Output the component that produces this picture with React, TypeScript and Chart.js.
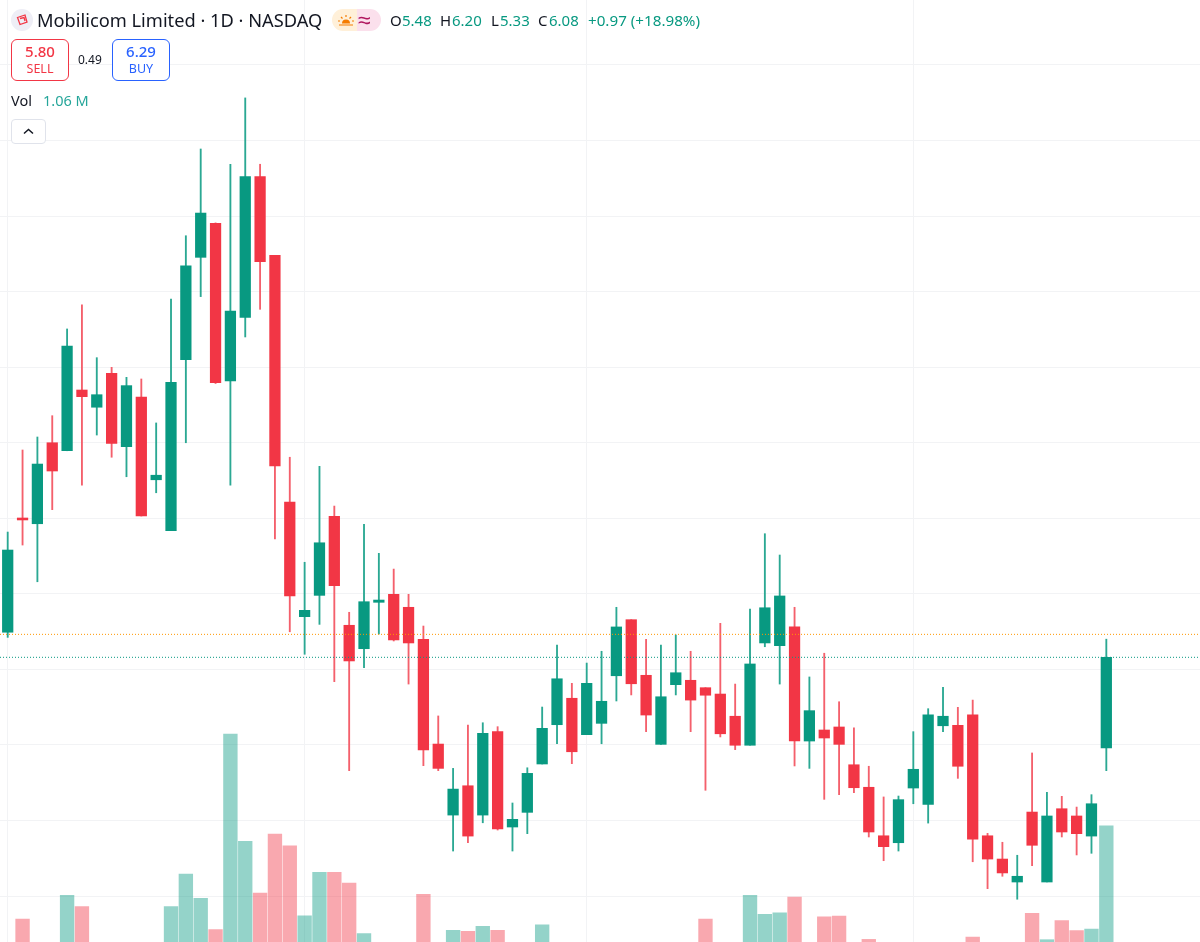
import React, { useEffect, useRef } from "react";
import { Chart, registerables } from "chart.js";

Chart.register(...registerables);

const UP = "#089981";
const DOWN = "#F23645";
const UP_WICK = "#2ba893";
const DOWN_WICK = "#f4606c";
const UP_VOL = "rgba(8,153,129,0.43)";
const DOWN_VOL = "rgba(242,54,69,0.43)";
const FONT = '"Noto Sans", sans-serif';

// daily OHLC, oldest first
const opens = [
    6.246, 7.002, 6.964, 7.5, 7.447, 7.849, 7.735, 7.96, 7.474, 7.803,
    7.255, 6.918, 8.05, 8.727, 8.952, 7.909, 8.33, 9.261, 8.741, 7.108,
    6.349, 6.49, 7.013, 6.292, 6.137, 6.444, 6.497, 6.411, 6.199, 5.506,
    5.036, 5.23, 5.036, 5.588, 4.957, 5.054, 5.374, 5.634, 5.809, 5.568,
    5.643, 5.958, 6.329, 5.961, 5.504, 5.899, 5.928, 5.879, 5.837, 5.69,
    5.498, 6.175, 6.157, 6.281, 5.526, 5.599, 5.619, 5.369, 5.22, 4.899,
    4.853, 5.215, 5.107, 5.627, 5.63, 5.7, 4.899, 4.745, 4.593, 5.056,
    4.593, 5.078, 5.03, 4.897, 5.48,
];
const highs = [
    6.909, 7.452, 7.538, 7.679, 8.253, 8.412, 8.063, 7.999, 7.933, 7.922,
    7.631, 8.451, 8.87, 9.444, 8.955, 9.343, 9.782, 9.343, 8.741, 7.404,
    6.709, 7.344, 7.081, 6.378, 6.96, 6.768, 6.664, 6.497, 6.287, 5.692,
    5.345, 5.632, 5.647, 5.621, 5.116, 5.349, 5.751, 6.161, 5.908, 6.042,
    6.12, 6.411, 6.329, 6.199, 6.161, 6.228, 6.12, 5.879, 6.305, 5.903,
    6.4, 6.898, 6.757, 6.411, 5.95, 6.107, 5.786, 5.614, 5.359, 5.156,
    5.162, 5.588, 5.74, 5.882, 5.749, 5.797, 4.915, 4.856, 4.77, 5.447,
    5.187, 5.16, 5.089, 5.171, 6.2,
];
const lows = [
    6.212, 6.823, 6.58, 7.057, 7.447, 7.22, 7.551, 7.404, 7.275, 7.015,
    7.169, 6.918, 7.5, 8.467, 7.892, 7.22, 8.2, 8.383, 6.863, 6.249,
    6.1, 6.298, 5.919, 5.33, 6.011, 6.234, 6.188, 5.903, 5.363, 5.33,
    4.798, 4.853, 4.985, 4.937, 4.798, 4.913, 5.374, 5.508, 5.376, 5.568,
    5.508, 5.791, 5.831, 5.588, 5.504, 5.831, 5.588, 5.2, 5.553, 5.469,
    5.498, 6.15, 5.903, 5.361, 5.345, 5.14, 5.171, 5.184, 4.891, 4.734,
    4.798, 5.111, 4.983, 5.588, 5.279, 4.727, 4.549, 4.631, 4.479, 4.701,
    4.593, 4.891, 4.772, 4.783, 5.33,
];
const closes = [
    6.79, 6.989, 7.359, 7.313, 8.14, 7.805, 7.818, 7.496, 7.878, 7.015,
    7.285, 7.9, 8.67, 9.02, 7.897, 8.372, 9.261, 8.698, 7.346, 6.486,
    6.391, 6.838, 6.554, 6.056, 6.448, 6.459, 6.195, 6.175, 5.467, 5.345,
    5.208, 4.897, 5.577, 4.944, 5.008, 5.312, 5.61, 5.938, 5.455, 5.908,
    5.789, 6.281, 5.905, 5.698, 5.819, 5.978, 5.797, 5.829, 5.574, 5.498,
    6.036, 6.408, 6.486, 5.526, 5.727, 5.546, 5.504, 5.217, 4.924, 4.827,
    5.138, 5.339, 5.7, 5.69, 5.359, 4.876, 4.745, 4.653, 4.631, 4.836,
    5.03, 4.924, 4.913, 5.111, 6.08,
];
// millions of shares; null where the bar sits below the cropped bottom edge
const volumes = [
    null, 0.493, null, null, 0.637, 0.568, null, null, null, null,
    null, 0.568, 0.767, 0.619, 0.428, 1.62, 0.966, 0.651, 1.011, 0.938,
    0.513, 0.777, 0.777, 0.712, 0.404, null, null, null, 0.643, null,
    0.424, 0.418, 0.449, 0.424, null, null, 0.457, null, null, null,
    null, null, null, null, null, null, null, 0.493, null, null,
    0.637, 0.522, 0.531, 0.627, null, 0.507, 0.511, null, 0.369, null,
    null, null, null, null, null, 0.383, null, null, null, 0.528,
    0.367, 0.483, 0.422, 0.432, 1.06,
];
const dateBreaks = [0, 20, 39, 61];
const askLine = 6.232;
const lastLine = 6.08;

const candles = opens.map((_, i) => i);
const isUp = (i: number) => closes[i] >= opens[i];

const X_MIN = -0.519;
const X_MAX = 80.31;

function Label(props: { x: number; y: number; size?: number; color?: string; weight?: number; children: React.ReactNode }) {
    return (
        <span
            style={{
                position: "absolute",
                left: props.x,
                top: props.y,
                fontSize: props.size ?? 15,
                color: props.color ?? "#131722",
                fontWeight: props.weight ?? 400,
                lineHeight: "20px",
                whiteSpace: "nowrap",
            }}
        >
            {props.children}
        </span>
    );
}

function PriceBox(props: { x: number; color: string; price: string; side: string }) {
    return (
        <div
            style={{
                position: "absolute",
                left: props.x,
                top: 39,
                width: 56,
                height: 40,
                border: `1px solid ${props.color}`,
                borderRadius: 6,
                color: props.color,
                textAlign: "center",
                background: "#fff",
            }}
        >
            <div style={{ fontSize: 15, fontWeight: 500, lineHeight: "17px", marginTop: 3 }}>{props.price}</div>
            <div style={{ fontSize: 12.5, lineHeight: "17px" }}>{props.side}</div>
        </div>
    );
}

export default function App() {
    const canvasRef = useRef<HTMLCanvasElement | null>(null);

    useEffect(() => {
        if (!canvasRef.current) return;

        const chart = new Chart(canvasRef.current, {
            type: "bar",
            data: {
                datasets: [
                    {
                        type: "line",
                        data: [
                            { x: X_MIN, y: askLine },
                            { x: X_MAX, y: askLine },
                        ],
                        borderColor: "#FF9800",
                        borderWidth: 1,
                        borderDash: [1, 2],
                        pointRadius: 0,
                        order: 0,
                    },
                    {
                        type: "line",
                        data: [
                            { x: X_MIN, y: lastLine },
                            { x: X_MAX, y: lastLine },
                        ],
                        borderColor: UP,
                        borderWidth: 1,
                        borderDash: [1, 2],
                        pointRadius: 0,
                        order: 0,
                    },
                    {
                        data: candles.map((i) => ({ x: i, y: [opens[i], closes[i]] })),
                        backgroundColor: candles.map((i) => (isUp(i) ? UP : DOWN)),
                        barThickness: 10.6,
                        grouped: false,
                        order: 1,
                    },
                    {
                        data: candles.map((i) => ({ x: i, y: [lows[i], highs[i]] })),
                        backgroundColor: candles.map((i) => (isUp(i) ? UP_WICK : DOWN_WICK)),
                        barThickness: 1.2,
                        grouped: false,
                        order: 2,
                    },
                    {
                        data: candles.map((i) => ({ x: i, y: volumes[i] })),
                        backgroundColor: candles.map((i) => (isUp(i) ? UP_VOL : DOWN_VOL)),
                        barThickness: 13.7,
                        grouped: false,
                        yAxisID: "v",
                        order: 3,
                    },
                ],
            } as any,
            options: {
                animation: false,
                responsive: false,
                devicePixelRatio: 1,
                layout: { padding: 0 },
                plugins: {
                    legend: { display: false },
                    tooltip: { enabled: false },
                },
                scales: {
                    x: {
                        type: "linear",
                        min: X_MIN,
                        max: X_MAX,
                        offset: false,
                        border: { display: false },
                        grid: { color: "#f2f3f5", drawTicks: false, offset: false },
                        ticks: { display: false },
                        afterBuildTicks: (scale) => {
                            scale.ticks = dateBreaks.map((value) => ({ value }));
                        },
                    },
                    y: {
                        min: 4.196,
                        max: 10.43,
                        border: { display: false },
                        grid: { color: "#f2f3f5", drawTicks: false },
                        ticks: { display: false, stepSize: 0.5, includeBounds: false },
                    },
                    v: {
                        display: false,
                        min: 0.353,
                        max: 6.09,
                    },
                },
            },
        });

        return () => {
            chart.destroy();
        };
    }, []);

    return (
        <div
            style={{
                position: "fixed",
                left: 0,
                top: 0,
                width: 1200,
                height: 942,
                background: "#fff",
                overflow: "hidden",
                fontFamily: FONT,
            }}
        >
            <canvas ref={canvasRef} width={1200} height={942} style={{ display: "block" }} />

            {/* symbol logo */}
            <svg width={22} height={22} style={{ position: "absolute", left: 11, top: 9 }}>
                <circle cx={11} cy={11} r={11} fill="#eeeef6" />
                <path d="M6.5 8.5 L14 6 L16 13 L9 15.5 Z M9 9.5 L13 8.5 L14 12" fill="none" stroke={DOWN} strokeWidth={1.3} />
            </svg>
            <Label x={37} y={10} size={18.25}>Mobilicom Limited · 1D · NASDAQ</Label>

            {/* market status pill */}
            <svg width={49} height={22} style={{ position: "absolute", left: 332, top: 9 }}>
                <path d="M11 0 H25 V22 H11 A11 11 0 0 1 11 0 Z" fill="#fff0d9" />
                <path d="M25 0 H38 A11 11 0 0 1 38 22 H25 Z" fill="#fbe0ec" />
                <path d="M10 14.5 A4 4 0 0 1 18 14.5 Z" fill="#f57c00" />
                <path d="M6 12 H8 M20 12 H22 M14 6 V8 M9 8 L10.5 9.5 M19 8 L17.5 9.5 M7 16 H21" stroke="#f57c00" strokeWidth={1.2} />
            </svg>
            <Label x={358} y={9} size={23} color="#b0175f">≈</Label>

            <Label x={390} y={10}>O</Label>
            <Label x={402} y={10} color={UP}>5.48</Label>
            <Label x={440} y={10}>H</Label>
            <Label x={452} y={10} color={UP}>6.20</Label>
            <Label x={491} y={10}>L</Label>
            <Label x={500} y={10} color={UP}>5.33</Label>
            <Label x={538} y={10}>C</Label>
            <Label x={549} y={10} color={UP}>6.08</Label>
            <Label x={588} y={10} size={15.2} color={UP}>+0.97 (+18.98%)</Label>

            <PriceBox x={11} color={DOWN} price="5.80" side="SELL" />
            <Label x={78} y={50} size={12}>0.49</Label>
            <PriceBox x={112} color="#2962FF" price="6.29" side="BUY" />

            <Label x={11} y={90} size={14.5}>Vol</Label>
            <Label x={43} y={90} size={14.5} color="#26A69A">1.06 M</Label>

            {/* collapse button */}
            <div
                style={{
                    position: "absolute",
                    left: 11,
                    top: 119,
                    width: 33,
                    height: 23,
                    border: "1px solid #e0e3eb",
                    borderRadius: 4,
                    background: "#fff",
                }}
            >
                <svg width={33} height={23}>
                    <path d="M12 13.5 L16.5 9.5 L21 13.5" fill="none" stroke="#131722" strokeWidth={1.5} />
                </svg>
            </div>
        </div>
    );
}
